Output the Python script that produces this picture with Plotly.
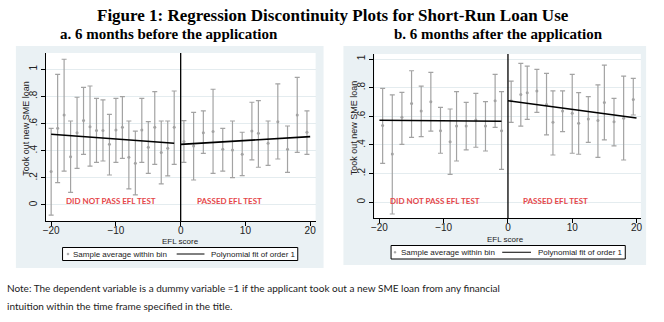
import plotly.graph_objects as go

W, H = 664, 322

# ---------------- data ----------------
a_left_x = [-20, -19, -18, -17, -16, -15, -14, -13, -12, -11, -10, -9, -8, -7, -6, -5, -4, -3, -2, -1]
a_left_mean = [0.246, 0.565, 0.663, 0.356, 0.533, 0.622, 0.577, 0.548, 0.548, 0.447,
               0.553, 0.572, 0.351, 0.307, 0.553, 0.425, 0.572, 0.386, 0.418, 0.572]
a_left_hi = [0.565, 0.963, 1.074, 0.619, 0.794, 0.867, 0.877, 0.786, 0.774, 0.668,
             0.786, 0.798, 0.619, 0.545, 0.786, 0.614, 0.835, 0.619, 0.619, 0.840]
a_left_lo = [-0.074, 0.165, 0.250, 0.093, 0.270, 0.373, 0.287, 0.314, 0.324, 0.221,
             0.314, 0.344, 0.118, 0.074, 0.314, 0.233, 0.300, 0.155, 0.214, 0.300]

a_right_x = [0.5, 2, 3.5, 5, 6.5, 8, 9.5, 11, 12, 13.5, 15, 16.5, 18, 19.5]
a_right_mean = [0.467, 0.435, 0.533, 0.541, 0.410, 0.405, 0.373, 0.545, 0.528, 0.455, 0.614, 0.410, 0.663, 0.536]
a_right_hi = [0.622, 0.683, 0.693, 0.853, 0.565, 0.619, 0.536, 0.757, 0.769, 0.619, 0.892, 0.582, 0.941, 0.693]
a_right_lo = [0.314, 0.184, 0.381, 0.233, 0.250, 0.201, 0.216, 0.332, 0.278, 0.292, 0.339, 0.241, 0.388, 0.373]

a_fit_left_x = [-20, -1]
a_fit_left_y = [0.521, 0.455]
a_fit_right_x = [0, 20]
a_fit_right_y = [0.447, 0.504]

b_left_x = [-19.5, -18, -16.5, -15, -13.5, -12, -10.5, -9, -8, -6.5, -5, -3.5, -2, -1]
b_left_mean = [0.535, 0.337, 0.593, 0.690, 0.637, 0.702, 0.500, 0.423, 0.532, 0.532, 0.574, 0.532, 0.709, 0.500]
b_left_hi = [0.795, 0.749, 0.767, 0.918, 0.811, 0.907, 0.662, 0.651, 0.772, 0.697, 0.760, 0.702, 0.893, 0.772]
b_left_lo = [0.272, -0.082, 0.404, 0.453, 0.458, 0.497, 0.342, 0.195, 0.288, 0.365, 0.384, 0.358, 0.523, 0.230]

b_right_x = [0.5, 2, 3, 4.5, 6, 7, 8.5, 10, 11, 12.5, 14, 15, 16.5, 18, 19.5]
b_right_mean = [0.709, 0.753, 0.765, 0.776, 0.683, 0.558, 0.637, 0.621, 0.551, 0.581, 0.570, 0.697, 0.562, 0.586, 0.718]
b_right_hi = [0.846, 0.970, 0.951, 0.928, 0.900, 0.777, 0.777, 0.893, 0.765, 0.737, 0.819, 0.958, 0.725, 0.881, 0.865]
b_right_lo = [0.558, 0.532, 0.579, 0.628, 0.470, 0.330, 0.493, 0.342, 0.335, 0.418, 0.314, 0.435, 0.393, 0.295, 0.609]

b_fit_left_x = [-20, -1]
b_fit_left_y = [0.573, 0.565]
b_fit_right_x = [0, 20]
b_fit_right_y = [0.709, 0.588]

x_ticks = [-20, -10, 0, 10, 20]
y_ticks = [0, 0.2, 0.4, 0.6, 0.8, 1]
y_ticktext = ["0", ".2", ".4", ".6", ".8", "1"]

title_main = "Figure 1: Regression Discontinuity Plots for Short-Run Loan Use"
title_a = "a. 6 months before the application"
title_b = "b. 6 months after the application"
y_title = "Took out new SME loan"
x_title = "EFL score"
label_fail = "DID NOT PASS EFL TEST"
label_pass = "PASSED EFL TEST"
legend_points = "Sample average within bin"
legend_fit = "Polynomial fit of order 1"
note_lines = ["Note: The dependent variable is a dummy variable =1 if the applicant took out a new SME loan from any financial",
              "intuition within the time frame specified in the title."]

# ---------------- helpers ----------------
def px(x):
    return x / W

def py(y):
    return 1 - y / H

GREY = "#a3a3a3"
BG = "#eaf1f4"
GRID = "#e4ecef"
RED = "#e5474a"
TICKFONT = dict(family="Liberation Sans, Arial", size=10, color="#222")
SMALLFONT = dict(family="Liberation Sans, Arial", size=8, color="#222")

fig = go.Figure()

def add_panel(xa, ya, lx, lm, lh, ll, rx, rm, rh, rl, flx, fly, frx, fry):
    for xs, ms, hs, ls in ((lx, lm, lh, ll), (rx, rm, rh, rl)):
        fig.add_trace(go.Scatter(
            x=xs, y=ms, mode="markers", xaxis=xa, yaxis=ya,
            marker=dict(size=3, color=GREY),
            error_y=dict(type="data", symmetric=False,
                         array=[h - m for h, m in zip(hs, ms)],
                         arrayminus=[m - l for m, l in zip(ms, ls)],
                         color=GREY, thickness=1.2, width=2.5),
            showlegend=False, hoverinfo="skip"))
    for xs, ys in ((flx, fly), (frx, fry)):
        fig.add_trace(go.Scatter(x=xs, y=ys, mode="lines", xaxis=xa, yaxis=ya,
                                 line=dict(color="black", width=1.6),
                                 showlegend=False, hoverinfo="skip"))

add_panel("x", "y", a_left_x, a_left_mean, a_left_hi, a_left_lo,
          a_right_x, a_right_mean, a_right_hi, a_right_lo,
          a_fit_left_x, a_fit_left_y, a_fit_right_x, a_fit_right_y)
add_panel("x2", "y2", b_left_x, b_left_mean, b_left_hi, b_left_lo,
          b_right_x, b_right_mean, b_right_hi, b_right_lo,
          b_fit_left_x, b_fit_left_y, b_fit_right_x, b_fit_right_y)

xcommon = dict(tickvals=x_ticks, showline=True, linecolor="black", linewidth=1,
               ticks="outside", ticklen=4, tickcolor="black", showgrid=False,
               zeroline=False, tickfont=TICKFONT, fixedrange=True,
               ticklabelstandoff=-4)
ycommon = dict(tickvals=y_ticks, ticktext=y_ticktext, tickangle=-90,
               showline=True, linecolor="black", linewidth=1,
               ticks="outside", ticklen=4, tickcolor="black", showgrid=True,
               gridcolor=GRID, gridwidth=1, zeroline=False, tickfont=TICKFONT,
               fixedrange=True)

fig.update_layout(
    width=W, height=H, margin=dict(l=0, r=0, t=0, b=0),
    paper_bgcolor="white", plot_bgcolor="white",
    xaxis=dict(domain=[px(43.3), px(315)], range=[-20.8, 20.84], anchor="y", **xcommon),
    yaxis=dict(domain=[py(221), py(53)], range=[-0.118, 1.12], anchor="x", **ycommon),
    xaxis2=dict(domain=[px(374.3), px(642.7)], range=[-20.77, 20.68], anchor="y2", **xcommon),
    yaxis2=dict(domain=[py(218.3), py(54)], range=[-0.112, 1.035], anchor="x2", **ycommon),
)

shapes = []
# outer graph-region backgrounds
for x0, x1, y0, y1 in ((13, 323, 46, 268), (343, 648, 46, 265)):
    shapes.append(dict(type="rect", xref="paper", yref="paper", layer="below",
                       x0=px(x0), x1=px(x1), y0=py(y1), y1=py(y0),
                       fillcolor=BG, line=dict(width=0)))
# white plot regions
for xr, yr in (("x", "y"), ("x2", "y2")):
    shapes.append(dict(type="rect", xref=xr + " domain", yref=yr + " domain", layer="below",
                       x0=0, x1=1, y0=0, y1=1, fillcolor="white", line=dict(width=0)))
    # cutoff line
    shapes.append(dict(type="line", xref=xr, yref=yr + " domain", x0=0, x1=0, y0=0, y1=1,
                       line=dict(color="black", width=1.3)))

annotations = []
def ann(text, x, y, font, xanchor="center", angle=0):
    annotations.append(dict(text=text, x=px(x), y=py(y), xref="paper", yref="paper",
                            showarrow=False, xanchor=xanchor, yanchor="middle",
                            font=font, textangle=angle, borderpad=0))

TITLEFONT = dict(family="Liberation Serif, Times New Roman", size=15, color="black")
ann("<b>" + title_main + "</b>", 332, 16, dict(TITLEFONT, size=17))
ann("<b>" + title_a + "</b>", 167, 34, TITLEFONT)
ann("<b>" + title_b + "</b>", 499, 34, TITLEFONT)

YTFONT = dict(SMALLFONT, size=9)
ann(y_title, 23, 128, YTFONT, angle=-90)
ann(y_title, 354, 128, YTFONT, angle=-90)
ann(x_title, 179, 241, SMALLFONT)
ann(x_title, 506, 239, SMALLFONT)

REDFONT = dict(family="Lato, Liberation Sans", size=8, color=RED)
ann("<b>" + label_fail + "</b>", 109, 201, REDFONT)
ann("<b>" + label_pass + "</b>", 228, 201, REDFONT)
ann("<b>" + label_fail + "</b>", 435, 201, REDFONT)
ann("<b>" + label_pass + "</b>", 557, 201, REDFONT)

# legends (drawn manually, Stata-style)
for (bx0, bx1, by0, by1, mx, t1, lx0, lx1, t2) in (
        (60, 297, 247.5, 260.5, 65.5, 70, 175, 203, 209),
        (391, 627, 245.5, 259, 395, 400, 503, 532, 538)):
    shapes.append(dict(type="rect", xref="paper", yref="paper",
                       x0=px(bx0), x1=px(bx1), y0=py(by1), y1=py(by0),
                       fillcolor="white", line=dict(color="black", width=1)))
    ym = (by0 + by1) / 2
    shapes.append(dict(type="circle", xref="paper", yref="paper",
                       x0=px(mx - 1), x1=px(mx + 1), y0=py(ym + 1), y1=py(ym - 1),
                       fillcolor=GREY, line=dict(color=GREY, width=0.5)))
    shapes.append(dict(type="line", xref="paper", yref="paper",
                       x0=px(lx0), x1=px(lx1), y0=py(ym), y1=py(ym),
                       line=dict(color="black", width=1)))
    ann(legend_points, t1, ym, SMALLFONT, xanchor="left")
    ann(legend_fit, t2, ym, SMALLFONT, xanchor="left")

NOTEFONT = dict(family="Lato, Liberation Sans", size=10, color="#222")
ann(note_lines[0], 3, 288, NOTEFONT, xanchor="left")
ann(note_lines[1], 3, 306, NOTEFONT, xanchor="left")

fig.update_layout(shapes=shapes, annotations=annotations)
fig.write_html("out.html")
